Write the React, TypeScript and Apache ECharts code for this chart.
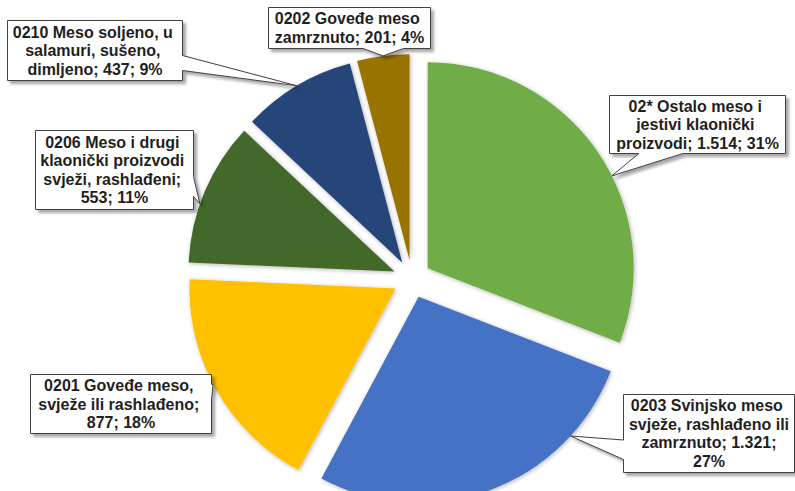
import React, { useEffect, useRef } from "react";
import * as echarts from "echarts";

// ---- data ----
const categories: string[] = [
  "02* Ostalo meso i jestivi klaonički proizvodi",
  "0203 Svinjsko meso svježe, rashlađeno ili zamrznuto",
  "0201 Goveđe meso, svježe ili rashlađeno",
  "0206 Meso i drugi klaonički proizvodi svježi, rashlađeni",
  "0210 Meso soljeno, u salamuri, sušeno, dimljeno",
  "0202 Goveđe meso zamrznuto",
];
const values: number[] = [1514, 1321, 877, 553, 437, 201];

// ---- styling / layout (not data) ----
const colors = ["#70AD47", "#4472C4", "#FFC000", "#43682B", "#264478", "#997300"];
const PIE_CENTER: [number, number] = [412, 279];
const PIE_RADIUS = 206;
const EXPLODE = 19;
// callout boxes: [left, top, width, height]
const calloutBoxes: [number, number, number, number][] = [
  [609, 95, 176, 58],
  [623, 394, 171, 78],
  [30, 374, 181, 59],
  [35, 130, 158, 79],
  [7, 20, 175, 60],
  [268, 7, 162, 41],
];
// text wrapping width of each callout
const wrapWidths = [176, 176, 180, 160, 175, 160];
// where along each slice's arc the callout pointer touches (fraction of the slice angle)
const pointerFrac = [0.57, 0.22, 0.53, 0.41, 0.5, 0.5];

const FONT = "Liberation Sans, Arial, sans-serif";

function fmtThousands(v: number): string {
  return String(v).replace(/\B(?=(\d{3})+(?!\d))/g, ".");
}

function dirOf(deg: number): [number, number] {
  const r = (deg * Math.PI) / 180;
  return [Math.sin(r), -Math.cos(r)];
}

function buildCallouts(): any[] {
  const total = values.reduce((a, b) => a + b, 0);
  const elements: any[] = [];
  let acc = 0;
  values.forEach((v, i) => {
    const a0 = (acc / total) * 360;
    acc += v;
    const a1 = (acc / total) * 360;
    const mid = (a0 + a1) / 2;
    const md = dirOf(mid);
    const apex = [PIE_CENTER[0] + EXPLODE * md[0], PIE_CENTER[1] + EXPLODE * md[1]];
    const td = dirOf(a0 + pointerFrac[i] * (a1 - a0));
    const tip: [number, number] = [apex[0] + PIE_RADIUS * td[0], apex[1] + PIE_RADIUS * td[1]];

    const [bx, by, bw, bh] = calloutBoxes[i];
    const x0 = bx + 0.5, y0 = by + 0.5, x1 = bx + bw + 0.5, y1 = by + bh + 0.5;
    const cx = (x0 + x1) / 2, cy = (y0 + y1) / 2;
    const dxOut = tip[0] < x0 ? x0 - tip[0] : tip[0] > x1 ? tip[0] - x1 : 0;
    const dyOut = tip[1] < y0 ? y0 - tip[1] : tip[1] > y1 ? tip[1] - y1 : 0;
    let side: string;
    if (dxOut >= dyOut) side = tip[0] < x0 ? "left" : "right";
    else side = tip[1] < y0 ? "top" : "bottom";
    const horiz = side === "top" || side === "bottom";
    const before = horiz ? tip[0] < cx : tip[1] < cy;
    const f1 = before ? 1 / 6 : 7 / 12;
    const f2 = before ? 5 / 12 : 5 / 6;
    const w = x1 - x0, h = y1 - y0;
    const pts: number[][] = [[x0, y0]];
    if (side === "top") pts.push([x0 + w * f1, y0], tip, [x0 + w * f2, y0]);
    pts.push([x1, y0]);
    if (side === "right") pts.push([x1, y0 + h * f1], tip, [x1, y0 + h * f2]);
    pts.push([x1, y1]);
    if (side === "bottom") pts.push([x0 + w * f2, y1], tip, [x0 + w * f1, y1]);
    pts.push([x0, y1]);
    if (side === "left") pts.push([x0, y0 + h * f2], tip, [x0, y0 + h * f1]);

    const pct = Math.round((v / total) * 100);
    const text = `${categories[i]}; ${fmtThousands(v)}; ${pct}%`;

    elements.push({
      type: "polygon",
      z: 100,
      shape: { points: pts },
      style: {
        fill: "#ffffff",
        stroke: "#404040",
        lineWidth: 1,
        shadowBlur: 3,
        shadowColor: "rgba(0,0,0,0.35)",
        shadowOffsetX: 3,
        shadowOffsetY: 3,
      },
    });
    elements.push({
      type: "text",
      z: 101,
      x: cx,
      y: cy,
      style: {
        text,
        align: "center",
        verticalAlign: "middle",
        textAlign: "center",
        textVerticalAlign: "middle",
        width: wrapWidths[i],
        overflow: "break",
        fontFamily: FONT,
        fontWeight: "bold",
        fontSize: 16,
        lineHeight: 18.5,
        fill: "#1f1f1f",
      },
    });
  });
  return elements;
}

export default function App() {
  const ref = useRef<HTMLDivElement>(null);
  useEffect(() => {
    if (!ref.current) return;
    const chart = echarts.init(ref.current, undefined, { renderer: "svg" });
    chart.setOption({
      animation: false,
      backgroundColor: "#ffffff",
      series: [
        {
          type: "pie",
          center: PIE_CENTER,
          radius: PIE_RADIUS,
          startAngle: 90,
          clockwise: true,
          selectedMode: "multiple",
          selectedOffset: EXPLODE,
          emphasis: { disabled: true },
          label: { show: false },
          labelLine: { show: false },
          itemStyle: {
            shadowBlur: 4,
            shadowColor: "rgba(0,0,0,0.3)",
            shadowOffsetX: 1,
            shadowOffsetY: 1,
          },
          data: categories.map((name, i) => ({
            name,
            value: values[i],
            selected: true,
            itemStyle: { color: colors[i] },
          })),
        },
      ],
      graphic: { elements: buildCallouts() },
    });
    return () => chart.dispose();
  }, []);
  return (
    <div
      ref={ref}
      style={{ position: "fixed", left: 0, top: 0, width: 795, height: 491 }}
    />
  );
}
